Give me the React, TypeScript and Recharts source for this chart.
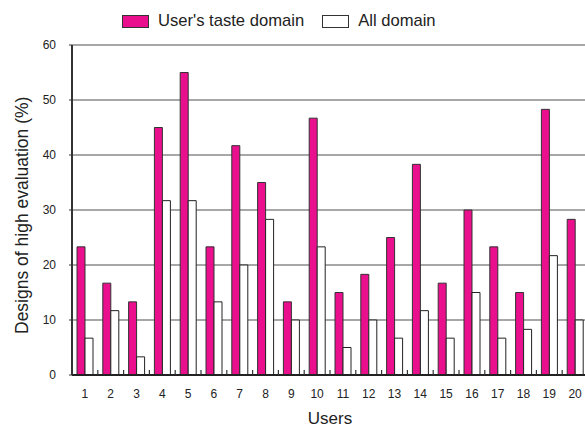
import { BarChart, Bar, XAxis, YAxis, CartesianGrid } from "recharts";

const users = ["1", "2", "3", "4", "5", "6", "7", "8", "9", "10", "11", "12", "13", "14", "15", "16", "17", "18", "19", "20"];
const tasteDomain = [23.3, 16.7, 13.3, 45, 55, 23.3, 41.7, 35, 13.3, 46.7, 15, 18.3, 25, 38.3, 16.7, 30, 23.3, 15, 48.3, 28.3];
const allDomain = [6.7, 11.7, 3.3, 31.7, 31.7, 13.3, 20, 28.3, 10, 23.3, 5, 10, 6.7, 11.7, 6.7, 15, 6.7, 8.3, 21.7, 10];
const yTicks = [0, 10, 20, 30, 40, 50, 60];

const PINK = "#EA0F8C";
const FONT = "Arial, 'Liberation Sans', sans-serif";

const data = users.map((u, i) => ({ user: u, taste: tasteDomain[i], all: allDomain[i] }));

// label under the band plus a small upward tick at the right edge of the band
function UserTick(props: any) {
  const { x, y, payload } = props;
  const half = 25.8 / 2;
  return (
    <g>
      <text x={x} y={y + 15} textAnchor="middle" fontSize={12} fill="#222" fontFamily={FONT}>
        {payload.value}
      </text>
      <line x1={x + half} x2={x + half} y1={y - 8} y2={y - 13} stroke="#333" strokeWidth={1.2} />
    </g>
  );
}

function TopLegend() {
  return (
    <div
      style={{
        position: "absolute",
        left: 122,
        top: 11,
        display: "flex",
        alignItems: "center",
        fontFamily: FONT,
        fontSize: 16.6,
        color: "#222",
        whiteSpace: "nowrap",
      }}
    >
      <span style={{ display: "inline-block", width: 25, height: 11, background: PINK, border: "1px solid #333", marginRight: 9 }} />
      <span style={{ marginRight: 18 }}>User's taste domain</span>
      <span style={{ display: "inline-block", width: 25, height: 11, background: "#fff", border: "1px solid #333", marginRight: 9 }} />
      <span>All domain</span>
    </div>
  );
}

export default function App() {
  return (
    <div style={{ position: "fixed", left: 0, top: 0, width: 585, height: 427, overflow: "hidden", background: "#fff" }}>
      <TopLegend />
      <BarChart
        width={588}
        height={427}
        data={data}
        margin={{ top: 45, right: 0, bottom: 8, left: 22 }}
        barGap={0}
        barSize={8}
      >
        <CartesianGrid vertical={false} stroke="#8a8a8a" strokeWidth={1.5} />
        <XAxis
          dataKey="user"
          height={44}
          tick={<UserTick />}
          tickLine={false}
          axisLine={{ stroke: "#222", strokeWidth: 2 }}
          interval={0}
          label={{ value: "Users", position: "insideBottom", offset: -5, fontSize: 17, fill: "#222", fontFamily: FONT }}
        />
        <YAxis
          domain={[0, 60]}
          ticks={yTicks}
          width={50}
          tick={{ fontSize: 12, fill: "#222", fontFamily: FONT }}
          tickLine={{ stroke: "#333" }}
          tickSize={3}
          tickMargin={13}
          axisLine={{ stroke: "#333", strokeWidth: 2 }}
          label={{
            value: "Designs of high evaluation (%)",
            angle: -90,
            position: "insideLeft",
            dx: -5,
            dy: 124,
            fontSize: 17.5,
            fill: "#222",
            fontFamily: FONT,
          }}
        />
        <Bar dataKey="taste" fill={PINK} stroke="#333" strokeWidth={1} isAnimationActive={false} />
        <Bar dataKey="all" fill="#fff" stroke="#222" strokeWidth={1} isAnimationActive={false} />
      </BarChart>
    </div>
  );
}
